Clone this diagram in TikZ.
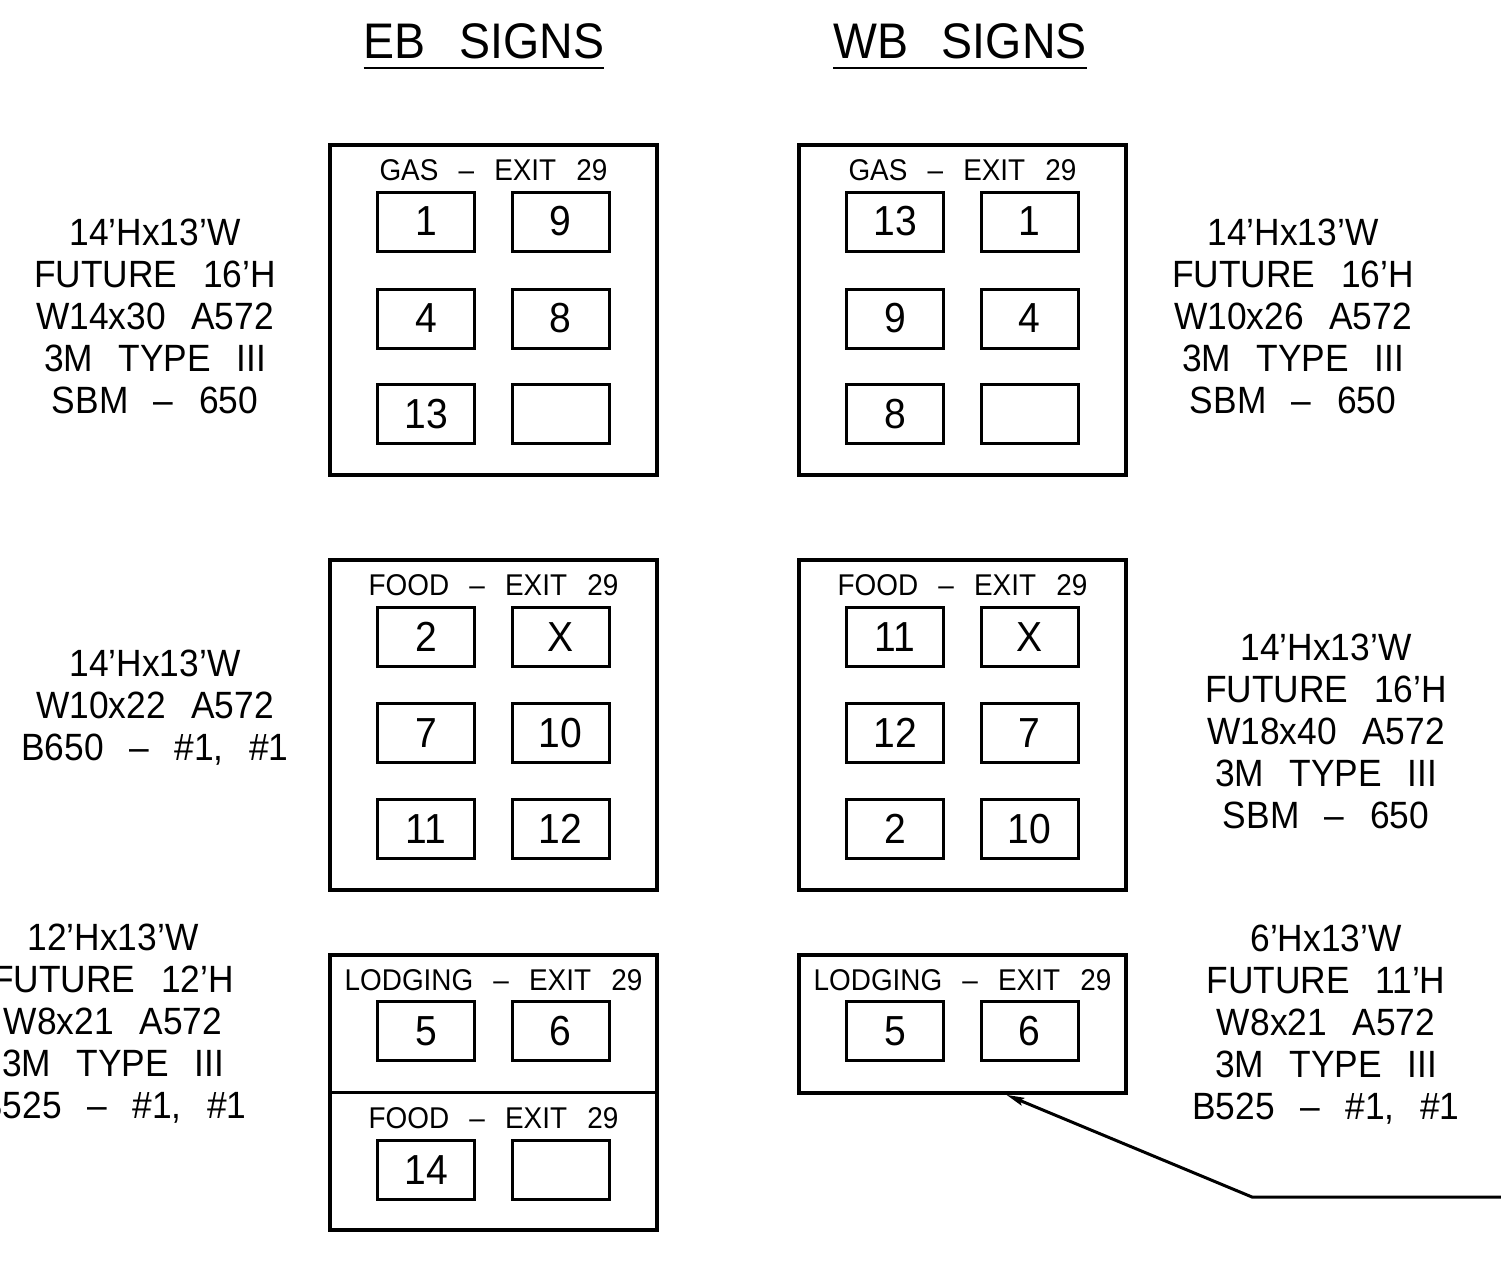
\documentclass[tikz,border=0pt]{standalone}
\usepackage{fontspec}
\setmainfont{Liberation Sans}[FakeStretch=0.93,WordSpace=2.6]
\usetikzlibrary{arrows.meta}
\begin{document}
\begin{tikzpicture}[x=1pt,y=-1pt,
  outer/.style={draw,line width=3.5pt,minimum width=327pt,inner sep=0},
  cell/.style={draw,line width=3pt,minimum width=97pt,minimum height=59pt,inner sep=0,font=\fontsize{42}{42}\selectfont},
  ttl/.style={inner sep=0,font=\fontsize{30}{30}\selectfont},
  head/.style={inner sep=0,font=\fontsize{50}{50}\selectfont},
  side/.style={inner sep=0,align=center,font=\fontsize{38}{42}\selectfont},
  leader/.style={line width=3pt}]
\clip (0,0) rectangle (1501,1269);
% titles
\node[head,anchor=base] (ebh) at (484,58) {EB SIGNS};
\node[head,anchor=base] (wbh) at (960,58) {WB SIGNS};
\draw[line width=2pt] ([yshift=-10pt]ebh.base west) -- ([yshift=-10pt]ebh.base east);
\draw[line width=2pt] ([yshift=-10pt]wbh.base west) -- ([yshift=-10pt]wbh.base east);
% outer boxes
\node[outer,minimum height=330pt] (geb) at (493.5,310) {};
\node[outer,minimum height=330pt] (gwb) at (962.5,310) {};
\node[outer,minimum height=330pt] (feb) at (493.5,725) {};
\node[outer,minimum height=330pt] (fwb) at (962.5,725) {};
\node[outer,minimum height=275pt] (leb) at (493.5,1092.5) {};
\node[outer,minimum height=138pt] (lwb) at (962.5,1024) {};
\draw[line width=3.5pt] (leb.west) -- (leb.east);
% box titles
\node[ttl] (gebt) at (493.5,170) {GAS -- EXIT 29};
\node[ttl] (gwbt) at (962.5,170) {GAS -- EXIT 29};
\node[ttl] (febt) at (493.5,585) {FOOD -- EXIT 29};
\node[ttl] (fwbt) at (962.5,585) {FOOD -- EXIT 29};
\node[ttl] (lebt) at (493.5,980) {LODGING -- EXIT 29};
\node[ttl] (lwbt) at (962.5,980) {LODGING -- EXIT 29};
\node[ttl] (lfebt) at (493.5,1118) {FOOD -- EXIT 29};
% EB gas cells
\node[cell] (g1) at (426,221.5) {1};
\node[cell] (g2) at (560.5,221.5) {9};
\node[cell] (g3) at (426,318.5) {4};
\node[cell] (g4) at (560.5,318.5) {8};
\node[cell] (g5) at (426,414) {13};
\node[cell] (g6) at (560.5,414) {};
% WB gas cells
\node[cell] (h1) at (895,221.5) {13};
\node[cell] (h2) at (1029.5,221.5) {1};
\node[cell] (h3) at (895,318.5) {9};
\node[cell] (h4) at (1029.5,318.5) {4};
\node[cell] (h5) at (895,414) {8};
\node[cell] (h6) at (1029.5,414) {};
% EB food cells
\node[cell] (f1) at (426,637) {2};
\node[cell] (f2) at (560.5,637) {X};
\node[cell] (f3) at (426,733) {7};
\node[cell] (f4) at (560.5,733) {10};
\node[cell] (f5) at (426,829) {11};
\node[cell] (f6) at (560.5,829) {12};
% WB food cells
\node[cell] (k1) at (895,637) {11};
\node[cell] (k2) at (1029.5,637) {X};
\node[cell] (k3) at (895,733) {12};
\node[cell] (k4) at (1029.5,733) {7};
\node[cell] (k5) at (895,829) {2};
\node[cell] (k6) at (1029.5,829) {10};
% lodging cells
\node[cell] (l1) at (426,1031) {5};
\node[cell] (l2) at (560.5,1031) {6};
\node[cell] (l3) at (426,1170) {14};
\node[cell] (l4) at (560.5,1170) {};
\node[cell] (m1) at (895,1031) {5};
\node[cell] (m2) at (1029.5,1031) {6};
% side texts
\node[side] (sgl) at (155,316) {14'Hx13'W\\FUTURE 16'H\\W14x30 A572\\3M TYPE III\\SBM -- 650};
\node[side] (sgr) at (1293,316) {14'Hx13'W\\FUTURE 16'H\\W10x26 A572\\3M TYPE III\\SBM -- 650};
\node[side] (sfl) at (155,708) {14'Hx13'W\\W10x22 A572\\B650 -- \#1, \#1};
\node[side] (sfr) at (1326,731) {14'Hx13'W\\FUTURE 16'H\\W18x40 A572\\3M TYPE III\\SBM -- 650};
\node[side] (sll) at (113,1024) {12'Hx13'W\\FUTURE 12'H\\W8x21 A572\\3M TYPE III\\B525 -- \#1, \#1};
\node[side] (slr) at (1326,1025) {6'Hx13'W\\FUTURE 11'H\\W8x21 A572\\3M TYPE III\\B525 -- \#1, \#1};
% leader
\coordinate (lend) at (1503,1197);
\coordinate (lknee) at (1252,1197);
\draw[leader,-{Stealth[length=18pt,width=8pt,inset=3pt]}] (lend) -- (lknee) -- ([xshift=209pt]lwb.south west);
\end{tikzpicture}
\end{document}
